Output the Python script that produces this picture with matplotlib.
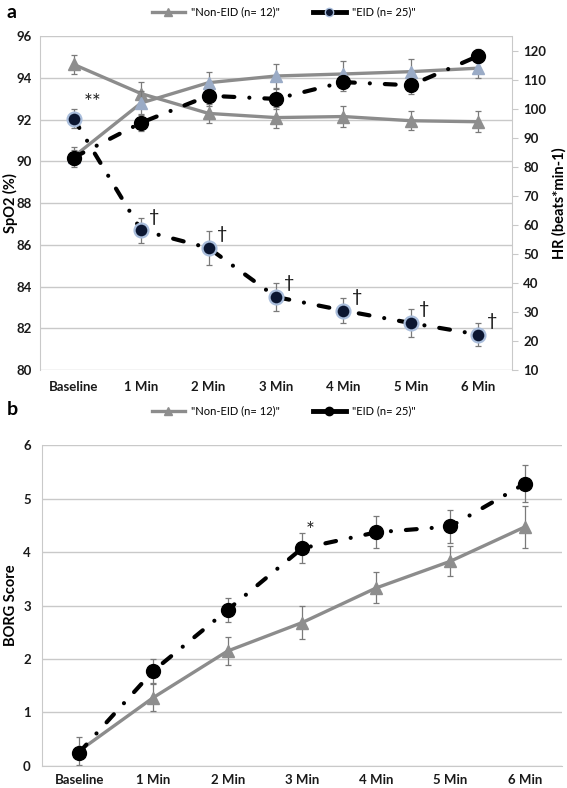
import matplotlib
matplotlib.use('Agg')
import matplotlib.pyplot as plt
from matplotlib.lines import Line2D
import numpy as np

plt.rcParams['font.family'] = ['Lato', 'DejaVu Sans']

# ---------------- data ----------------
time_labels = ['Baseline', '1 Min', '2 Min', '3 Min', '4 Min', '5 Min', '6 Min']

spo2_non = [94.65, 93.25, 92.3, 92.1, 92.15, 91.95, 91.9]
spo2_non_err = [0.45, 0.55, 0.45, 0.5, 0.5, 0.45, 0.5]
spo2_eid = [92.05, 86.7, 85.85, 83.5, 82.85, 82.25, 81.7]
spo2_eid_err = [0.45, 0.6, 0.8, 0.65, 0.6, 0.65, 0.55]

hr_non = [83.5, 102.0, 109.0, 111.3, 112.0, 112.8, 114.0]
hr_non_err = [3.5, 4.0, 3.7, 4.0, 4.3, 4.5, 3.5]
hr_eid = [83.2, 95.2, 104.5, 103.4, 109.2, 108.1, 118.2]
hr_eid_err = [2.5, 3.0, 3.5, 3.5, 3.0, 3.0, 2.5]

borg_non = [0.28, 1.28, 2.15, 2.68, 3.33, 3.83, 4.47]
borg_non_err = [0.27, 0.25, 0.27, 0.31, 0.29, 0.28, 0.40]
borg_eid = [0.25, 1.78, 2.92, 4.07, 4.37, 4.48, 5.28]
borg_eid_err = [0.08, 0.22, 0.23, 0.28, 0.30, 0.31, 0.35]

legend_labels = ['"Non-EID (n= 12)"', '"EID (n= 25)"']

# ---------------- style ----------------
GRAY_LINE = '#8c8c8c'
GRAY_TRI = '#8e8e8e'
BLUE_TRI = '#9aabc6'
NAVY = '#0b1631'
HALO = '#a9bddb'
ERR = '#7a7a7a'
GRID = '#c9c9c9'
DASHDOT = (0, (2.6, 3.6, 0.01, 3.6))
TICKFONT = dict(fontsize=9.5, fontweight='bold', color='#1a1a1a')

fig = plt.figure(figsize=(5.67, 7.88), dpi=100)
axa = fig.add_axes([0.0705, 0.5305, 0.8325, 0.4235])
axr = axa.twinx()
axb = fig.add_axes([0.074, 0.028, 0.917, 0.407])

x = np.arange(len(time_labels))

def err(ax, y, e, z=2):
    ax.errorbar(x, y, yerr=e, fmt='none', ecolor=ERR, elinewidth=0.9,
                capsize=2.5, capthick=0.9, zorder=z)

# ---------- panel a ----------
err(axa, spo2_non, spo2_non_err)
axa.plot(x, spo2_non, color=GRAY_LINE, lw=2.4, marker='^', ms=9,
         mfc=GRAY_TRI, mec=GRAY_TRI, zorder=3)
err(axa, spo2_eid, spo2_eid_err)
axa.plot(x, spo2_eid, color='black', lw=3, linestyle=DASHDOT,
         dash_capstyle='round', zorder=3)
axa.plot(x, spo2_eid, linestyle='none', marker='o', ms=10, mfc=NAVY,
         mec=HALO, mew=1.6, zorder=4)

err(axr, hr_non, hr_non_err)
axr.plot(x, hr_non, color=GRAY_LINE, lw=2.4, marker='^', ms=9,
         mfc=BLUE_TRI, mec=BLUE_TRI, zorder=3)
err(axr, hr_eid, hr_eid_err)
axr.plot(x, hr_eid, color='black', lw=3, linestyle=DASHDOT,
         dash_capstyle='round', marker='o', ms=10, mfc='black', mec='black',
         zorder=4)

axa.set_xlim(-0.5, 6.5)
axa.set_ylim(80, 96)
axa.set_yticks(np.arange(80, 97, 2))
axr.set_ylim(10, 125)
axr.set_yticks(np.arange(10, 121, 10))
axa.set_xticks(x)
axa.set_xticklabels(time_labels, **TICKFONT)
for lab in axa.get_yticklabels():
    lab.set(**TICKFONT)
for lab in axr.get_yticklabels():
    lab.set(**TICKFONT)
axa.yaxis.grid(True, color=GRID, lw=1)
axa.set_axisbelow(True)
for ax in (axa, axr):
    for s in ax.spines.values():
        s.set_visible(False)
axa.spines['left'].set_visible(True)
axa.spines['left'].set_color(GRID)
axr.spines['right'].set_visible(True)
axr.spines['right'].set_color(GRID)
axa.tick_params(axis='x', length=0, pad=8)
axa.tick_params(axis='y', length=0, pad=6)
axr.tick_params(axis='y', length=4, color=GRID, pad=4)
axa.set_ylabel('SpO2 (%)', fontsize=10.5, fontweight='bold')
axa.yaxis.set_label_coords(-0.047, 0.5)
axr.set_ylabel('HR (beats*min-1)', fontsize=10.5, fontweight='bold')
axr.yaxis.set_label_coords(1.085, 0.5)

# annotations
axa.annotate('**', (0, spo2_eid[0]), xytext=(7, 4), textcoords='offset points',
             fontsize=15, color='#222222', ha='left', va='bottom')
for i in range(1, 7):
    axa.annotate('†', (i, spo2_eid[i]), xytext=(6, 4), textcoords='offset points',
                 fontsize=13, color='#111111', ha='left', va='bottom')

h_non_a = Line2D([], [], color=GRAY_LINE, lw=2.4, marker='^', ms=6,
                 mfc=GRAY_TRI, mec=GRAY_TRI, markevery=[1])
h_eid_a = Line2D([], [], color='black', lw=3.5, marker='o', ms=6,
                 mfc=NAVY, mec=HALO, markevery=[1])
fig.legend([h_non_a, h_eid_a], legend_labels, loc='center',
           bbox_to_anchor=(0.5, 1 - 12 / 788), ncol=2, frameon=False,
           fontsize=8, handlelength=3.0, columnspacing=3.0, handletextpad=0.5)
fig.text(0.012, 1 - 12 / 788, 'a', fontsize=14, fontweight='bold', va='center')

# ---------- panel b ----------
err(axb, borg_non, borg_non_err)
axb.plot(x, borg_non, color=GRAY_LINE, lw=2.4, marker='^', ms=9,
         mfc=GRAY_TRI, mec=GRAY_TRI, zorder=3)
err(axb, borg_eid, borg_eid_err)
axb.plot(x, borg_eid, color='black', lw=3, linestyle=DASHDOT,
         dash_capstyle='round', marker='o', ms=10, mfc='black', mec='black',
         zorder=4)
axb.set_xlim(-0.5, 6.5)
axb.set_ylim(0, 6)
axb.set_yticks(np.arange(0, 7, 1))
axb.set_xticks(x)
axb.set_xticklabels(time_labels, **TICKFONT)
for lab in axb.get_yticklabels():
    lab.set(**TICKFONT)
axb.yaxis.grid(True, color=GRID, lw=1)
axb.set_axisbelow(True)
for s in axb.spines.values():
    s.set_visible(False)
axb.spines['left'].set_visible(True)
axb.spines['left'].set_color(GRID)
axb.spines['bottom'].set_visible(True)
axb.spines['bottom'].set_color(GRID)
axb.tick_params(axis='x', length=0, pad=6)
axb.tick_params(axis='y', length=0, pad=8)
axb.set_ylabel('BORG Score', fontsize=10.5, fontweight='bold')
axb.yaxis.set_label_coords(-0.047, 0.5)
axb.annotate('*', (3, borg_eid[3]), xytext=(3, 5), textcoords='offset points',
             fontsize=15, color='#222222', ha='left', va='bottom')

h_non_b = Line2D([], [], color=GRAY_LINE, lw=2.4, marker='^', ms=6,
                 mfc=GRAY_TRI, mec=GRAY_TRI, markevery=[1])
h_eid_b = Line2D([], [], color='black', lw=3.5, marker='o', ms=6,
                 mfc='black', mec='black', markevery=[1])
fig.legend([h_non_b, h_eid_b], legend_labels, loc='center',
           bbox_to_anchor=(0.5, 1 - 411 / 788), ncol=2, frameon=False,
           fontsize=8, handlelength=3.0, columnspacing=3.0, handletextpad=0.5)
fig.text(0.012, 1 - 410 / 788, 'b', fontsize=14, fontweight='bold', va='center')

fig.savefig('out.png', dpi=100)
